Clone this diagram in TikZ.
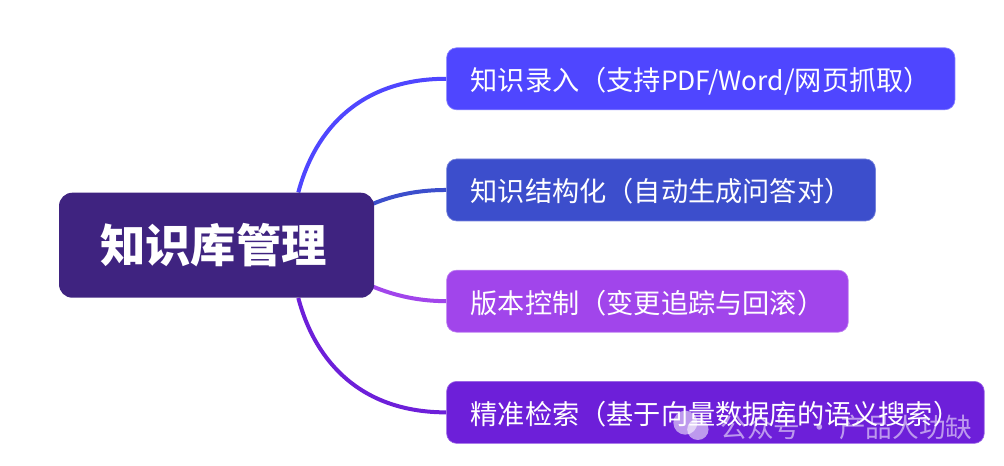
\documentclass[tikz,border=0pt]{standalone}
\usepackage{fontspec}
\setmainfont{Noto Sans CJK SC}
\usetikzlibrary{positioning,backgrounds}
\definecolor{hubbg}{HTML}{3F2380}
\definecolor{knowbg}{HTML}{4F46FF}
\definecolor{structbg}{HTML}{3C4ECC}
\definecolor{versionbg}{HTML}{A145EB}
\definecolor{searchbg}{HTML}{6D1FD9}

\begin{document}
\begin{tikzpicture}[
    leaf/.style={rounded corners=7.5pt, text=white, font=\fontsize{20.4pt}{24pt}\selectfont, minimum height=46.5pt, text height=18pt, text depth=0pt, inner xsep=18pt, inner ysep=0pt, line width=0.5pt},
    bubble/.style={circle, fill=white, fill opacity=0.55, inner sep=0pt},
    link/.style={line width=3pt}]
  \useasboundingbox (0,0) rectangle (753pt,-348.75pt);
  \node[rounded corners=10pt, fill=hubbg, text=white, font=\fontsize{34pt}{40pt}\selectfont\bfseries, minimum width=236.25pt, minimum height=78.75pt, inner sep=0pt] (hub) at (162.4pt,-183.9pt) {知识库管理\kern4.5pt};
  \node[leaf, draw=knowbg!70!white, fill=knowbg, above right=61.75pt and 54pt of hub.north east] (know) {知识录入（支持{\fontsize{19.8pt}{24pt}\selectfont PDF/Word}/网页抓取）};
  \node[leaf, draw=structbg!70!white, fill=structbg, below=36.4pt of know.south west, anchor=north west] (struct) {知识结构化（自动生成问答对）};
  \node[leaf, draw=versionbg!70!white, fill=versionbg, below=36.4pt of struct.south west, anchor=north west] (version) {版本控制（变更追踪与回滚）};
  \node[leaf, draw=searchbg!70!white, fill=searchbg, below=36.4pt of version.south west, anchor=north west] (search) {精准检索（基于向量数据库的语义搜索）};
  \coordinate (hubtop) at ([xshift=-57pt]hub.north east);
  \coordinate (hubupper) at ([xshift=-1pt,yshift=-8.5pt]hub.north east);
  \coordinate (hublower) at ([xshift=-1pt,yshift=8.5pt]hub.south east);
  \coordinate (hubbottom) at ([xshift=-57pt]hub.south east);
  \begin{scope}[on background layer]
    \draw[link, knowbg] (hubtop) .. controls +(13pt,49pt) and +(-63pt,0pt) .. (know.west);
    \draw[link, structbg] (hubupper) .. controls +(17pt,7pt) and +(-20pt,0pt) .. (struct.west);
    \draw[link, versionbg] (hublower) .. controls +(17pt,-7pt) and +(-20pt,0pt) .. (version.west);
    \draw[link, searchbg] (hubbottom) .. controls +(13pt,-49pt) and +(-63pt,0pt) .. (search.west);
  \end{scope}
  % watermark
  \node[bubble, minimum size=18pt] (iconleft) at (514pt,-317pt) {};
  \node[bubble, minimum size=16pt, right=-8pt of iconleft, yshift=-5pt] (iconright) {};
  \node[text=white, text opacity=0.55, font=\fontsize{20pt}{24pt}\selectfont, inner sep=0pt, right=8.5pt of iconright, yshift=1.5pt] (mark) {公众号 · 产品人功缺};
\end{tikzpicture}
\end{document}
